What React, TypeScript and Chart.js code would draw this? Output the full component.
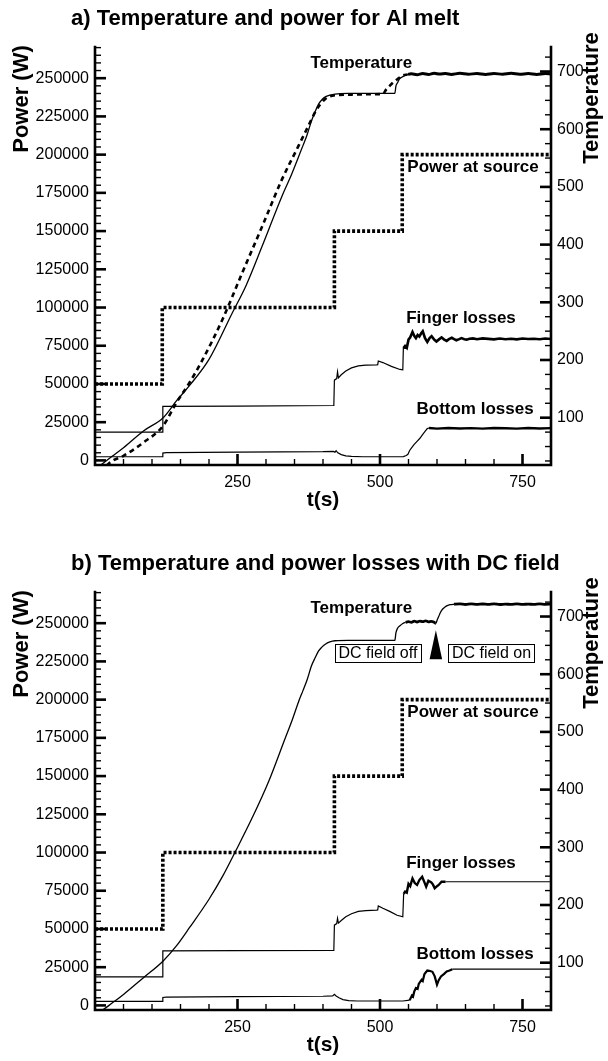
import React, { useEffect, useRef } from "react";
import { Chart, registerables } from "chart.js";

Chart.register(...registerables);

type Pt = [number, number];

const FONT = '"Liberation Sans", Arial, Helvetica, sans-serif';

// ---- axes / ticks ----
const X_TICKS = [250, 500, 750];
const POWER_TICKS = [0, 25000, 50000, 75000, 100000, 125000, 150000, 175000, 200000, 225000, 250000];
const TEMP_TICKS = [100, 200, 300, 400, 500, 600, 700];

// ---- chart a : Temperature and power for Al melt ----
const A_TITLE = "a) Temperature and power for Al melt";

const aPowerSource: Pt[] = [
  [0, 50000], [118, 50000], [118, 100000], [420, 100000], [420, 150000],
  [539, 150000], [539, 200000], [800, 200000],
];

const aTemperature: Pt[] = [
  [0, 12], [10, 18], [30, 33], [50, 48], [85, 77], [119.6, 100], [142.8, 129], [166, 156],
  [200, 201], [241, 282], [264.5, 328], [293.5, 398], [328, 484], [345, 522], [357, 552],
  [365, 572], [372, 590], [380, 615], [386, 630], [392, 643], [398, 651], [404, 656],
  [412, 659], [421, 661], [444, 662], [480, 662], [526, 662], [528, 675], [531, 681],
  [534, 687], [538, 690], [543, 693], [549, 695], [555, 696], [565, 694.5], [575, 696.5],
  [585, 695], [595, 697], [605, 695.5], [615, 696.5], [625, 695], [640, 696.8], [655, 695.2],
  [670, 696.6], [685, 695], [700, 696.5], [715, 695.3], [730, 696.8], [745, 695.2],
  [760, 696.4], [775, 695], [790, 696.5], [800, 695.8],
];

const aTemperatureModel: Pt[] = [
  [10, 5], [27, 23], [50, 34], [85, 57], [119.6, 86], [142.8, 126], [166, 161], [189, 201],
  [224, 271], [258.7, 352], [293.5, 432], [328, 513], [357, 571], [372, 601], [386, 629],
  [395, 643], [403.5, 652], [412, 657], [421, 659], [450, 660], [480, 660.5], [505, 661],
  [511, 669], [517, 675], [522, 680], [527, 684], [532, 688], [540, 693], [548, 695],
];

const aFinger: Pt[] = [
  [0, 18500], [119, 18500], [119, 35300], [250, 35500], [419, 35900], [420, 52500],
  [424, 53500], [425.5, 58000], [427, 54000], [432, 56000], [440, 58500], [450, 60500],
  [462, 61800], [475, 62300], [494, 62500], [496, 62600], [497, 65000], [505, 64000],
  [520, 61500], [535, 59500], [540, 59200], [541, 73500], [544, 74800], [547, 73600],
  [550, 79000], [553, 80500], [557, 84000], [560, 81500], [563, 80000], [566, 82000],
  [569, 81000], [572, 83000], [575, 84500], [579, 80000], [583, 77500], [587, 80000],
  [590.5, 81200], [595, 79000], [599, 77800], [603, 79000], [608, 80500], [612, 79200],
  [617, 78200], [621, 79300], [626, 80200], [630, 79300], [634, 78600], [639, 79300],
  [643, 80000], [648, 79300], [652, 79000], [657, 79600], [663, 79800], [670, 79300],
  [680, 79800], [690, 79500], [700, 79200], [710, 79700], [720, 79300], [730, 79600],
  [740, 79200], [750, 79700], [760, 79400], [770, 79600], [780, 79300], [790, 79700],
  [800, 79400],
];

const aBottom: Pt[] = [
  [0, 2400], [119, 2400], [119, 4800], [125, 5100], [250, 5400], [400, 5700], [418, 5900],
  [421, 5400], [423, 6400], [426, 5000], [432, 3800], [440, 3000], [450, 2600], [470, 2400],
  [530, 2400], [541, 2500], [546, 3200], [549, 4000], [552, 6500], [555, 8000], [560, 10500],
  [565, 12500], [570, 14500], [575, 17000], [579, 19000], [583, 20800], [586, 21200],
  [600, 20800], [620, 21200], [640, 20900], [660, 21100], [680, 20800], [700, 21200],
  [720, 21000], [740, 20800], [760, 21200], [780, 20900], [800, 21100],
];

// ---- chart b : Temperature and power losses with DC field ----
const B_TITLE = "b) Temperature and power losses with DC field";

const bPowerSource: Pt[] = [
  [0, 50000], [119, 50000], [119, 100000], [420, 100000], [420, 150000],
  [539, 150000], [539, 200000], [800, 200000],
];

const bTemperature: Pt[] = [
  [0, 12], [10, 16], [30, 30], [50, 45], [85, 74], [119.6, 103], [142.8, 129], [166, 161],
  [200, 210], [224, 250], [247, 294], [276, 351.5], [305, 415], [334, 490], [345, 518],
  [357, 552], [365, 572], [372, 590], [380, 615], [386, 628], [392, 640], [398, 647],
  [404, 652], [412, 656], [421, 658], [444, 658.5], [480, 658.5], [526, 658.5], [528, 672],
  [531, 680], [535, 684], [540, 688], [545, 690], [550, 691], [555, 690], [560, 692],
  [565, 690.5], [570, 692], [575, 691], [580, 692.5], [585, 690.8], [590, 691.5], [595, 690],
  [598, 688], [600, 693], [603, 700], [606, 707], [610, 713], [614, 716.5], [618, 719],
  [623, 720.5], [630, 721.3], [640, 722], [650, 720.8], [660, 721.8], [670, 720.9],
  [680, 721.7], [690, 721], [700, 722], [710, 720.8], [720, 721.6], [730, 721], [740, 721.9],
  [750, 720.9], [760, 721.6], [770, 721], [780, 721.8], [790, 721.1], [800, 721.5],
];

const bFinger: Pt[] = [
  [0, 18700], [119, 18700], [119, 35700], [250, 35900], [419, 36000], [420, 52500],
  [424, 53500], [425.5, 57000], [427, 53800], [432, 55500], [440, 58000], [450, 60000],
  [462, 61500], [475, 62000], [494, 62300], [496, 62400], [497, 65000], [505, 63500],
  [517, 61500], [530, 59000], [540, 58000], [541.5, 73000], [544, 74400], [547, 73800],
  [550, 79500], [553, 78000], [557, 83000], [561, 80000], [565, 78800], [569, 82000],
  [574, 84200], [578, 80500], [581, 77600], [585, 81500], [590, 80500], [593, 79000],
  [596, 76600], [600, 78000], [603, 78800], [608, 80900], [615, 80900], [800, 80900],
];

const bBottom: Pt[] = [
  [0, 2600], [119, 2600], [119, 5200], [125, 5400], [250, 5700], [400, 6000], [417, 6200],
  [420, 7300], [423, 6200], [428, 5000], [435, 3800], [445, 3100], [460, 2900], [500, 2900],
  [540, 2900], [552, 3400], [556, 6500], [558, 5800], [560, 9000], [563, 11400], [566, 10800],
  [568, 14000], [573, 16800], [575, 16000], [578, 20500], [583, 22800], [588, 22500],
  [592, 22000], [596, 19000], [600, 13600], [603, 16500], [607, 19000], [612, 20500],
  [617, 22200], [622, 22800], [627, 23700], [800, 23700],
];

// ---- text labels placed in data units (t, value) ----
const A_LABELS = [
  { text: "Temperature", t: 378, v: 714, axis: "t" },
  { text: "Power at source", t: 548, v: 191700, axis: "p" },
  { text: "Finger losses", t: 546, v: 92800, axis: "p" },
  { text: "Bottom losses", t: 564, v: 33300, axis: "p" },
];
const B_LABELS = A_LABELS;
const B_BOXES = [
  { text: "DC field off", t: 421, v: 637 },
  { text: "DC field on", t: 620, v: 637 },
];
const B_ARROW = { t: 598, tip: 676, base: 626, half: 11 };

const P_MIN = -3000, P_MAX = 270400;
const T_MIN = 18, T_MAX = 742.5;

function ds(points: Pt[], axis: string, width: number, opts: any = {}) {
  const thick: [number, number][] = opts.thick || [];
  const w2 = opts.thickWidth || 2.6;
  const out: any = {
    type: "line",
    data: points.map(([x, y]) => ({ x, y })),
    yAxisID: axis,
    borderColor: "#000",
    backgroundColor: "#000",
    borderWidth: width,
    borderDash: opts.dash || [],
    pointRadius: 0,
    tension: 0,
    fill: false,
    segment: {
      borderWidth: (c: any) => {
        const x = c.p0.parsed.x;
        return thick.some(([a, b]) => x >= a && x < b) ? w2 : width;
      },
    },
  };
  if (opts.smooth) out.cubicInterpolationMode = "monotone";
  return out;
}

function makeDecor(spec: any) {
  return {
    id: "decor",
    afterDraw(chart: any) {
      const ctx = chart.ctx;
      const ca = chart.chartArea;
      const xs = chart.scales.x, ps = chart.scales.p, ts = chart.scales.t;
      ctx.save();
      ctx.strokeStyle = "#000";
      ctx.fillStyle = "#000";
      const tick = (x1: number, y1: number, x2: number, y2: number, w: number) => {
        ctx.lineWidth = w;
        ctx.beginPath();
        ctx.moveTo(x1, y1);
        ctx.lineTo(x2, y2);
        ctx.stroke();
      };
      for (let v = 50; v < 800; v += 50) {
        const x = xs.getPixelForValue(v);
        const major = v % 250 === 0;
        tick(x, ca.bottom, x, ca.bottom - (major ? 11 : 6), major ? 2.6 : 1.4);
      }
      for (let v = 0; v <= P_MAX; v += 5000) {
        const y = ps.getPixelForValue(v);
        const major = v % 25000 === 0;
        tick(ca.left, y, ca.left + (major ? 11 : 6), y, major ? 2.6 : 1.4);
      }
      for (let v = 25; v <= T_MAX; v += 25) {
        const y = ts.getPixelForValue(v);
        if (y < ca.top - 1 || y > ca.bottom) continue;
        const major = v % 100 === 0;
        tick(ca.right, y, ca.right - (major ? 11 : 6), y, major ? 2.6 : 1.4);
      }
      ctx.lineWidth = 2.6;
      ctx.lineCap = "square";
      ctx.beginPath();
      ctx.moveTo(ca.left, ca.top);
      ctx.lineTo(ca.left, ca.bottom);
      ctx.lineTo(ca.right, ca.bottom);
      ctx.lineTo(ca.right, ca.top);
      ctx.stroke();
      ctx.lineCap = "butt";

      ctx.font = `bold 22px ${FONT}`;
      ctx.textAlign = "left";
      ctx.textBaseline = "middle";
      ctx.fillText(spec.title, 71, 19);

      ctx.font = `bold 22px ${FONT}`;
      const rot = (txt: string, x: number, y: number) => {
        ctx.save();
        ctx.translate(x, y);
        ctx.rotate(-Math.PI / 2);
        ctx.textAlign = "center";
        ctx.textBaseline = "middle";
        ctx.fillText(txt, 0, 0);
        ctx.restore();
      };
      rot("Power (W)", 22, 99);
      rot("Temperature", 592, 98);
      ctx.font = `bold 21px ${FONT}`;
      ctx.textAlign = "center";
      ctx.fillText("t(s)", (ca.left + ca.right) / 2, 500);

      ctx.font = `bold 17px ${FONT}`;
      ctx.textAlign = "left";
      for (const l of spec.labels) {
        const x = xs.getPixelForValue(l.t);
        const y = (l.axis === "t" ? ts : ps).getPixelForValue(l.v);
        ctx.fillText(l.text, x, y);
      }

      if (spec.boxes) {
        ctx.font = `16px ${FONT}`;
        for (const b of spec.boxes) {
          const x = xs.getPixelForValue(b.t);
          const y = ts.getPixelForValue(b.v);
          const w = ctx.measureText(b.text).width + 7;
          const h = 18;
          ctx.fillStyle = "#fff";
          ctx.fillRect(x, y - h / 2, w, h);
          ctx.lineWidth = 1;
          ctx.strokeStyle = "#000";
          ctx.strokeRect(Math.round(x) + 0.5, Math.round(y - h / 2) + 0.5, Math.round(w), h);
          ctx.fillStyle = "#000";
          ctx.textAlign = "left";
          ctx.fillText(b.text, x + 3.5, y + 1);
        }
      }
      if (spec.arrow) {
        const a = spec.arrow;
        const xt = xs.getPixelForValue(a.t);
        const xl = xs.getPixelForValue(a.t - a.half);
        const xr = xs.getPixelForValue(a.t + a.half);
        const yt = ts.getPixelForValue(a.tip);
        const yb = ts.getPixelForValue(a.base);
        ctx.beginPath();
        ctx.moveTo(xt, yt);
        ctx.lineTo(xr, yb);
        ctx.lineTo(xl, yb);
        ctx.closePath();
        ctx.fill();
      }
      ctx.restore();
    },
  };
}

function makeConfig(spec: any) {
  const tickFont = { family: FONT, size: 16 };
  return {
    type: "line",
    data: { datasets: spec.datasets },
    options: {
      animation: false,
      responsive: false,
      maintainAspectRatio: false,
      layout: { padding: { top: 47, left: 0, right: 0, bottom: 0 } },
      plugins: { legend: { display: false }, tooltip: { enabled: false }, title: { display: false } },
      scales: {
        x: {
          type: "linear",
          min: 0,
          max: 800,
          grid: { display: false, drawTicks: false },
          border: { display: false },
          afterBuildTicks: (s: any) => { s.ticks = X_TICKS.map((value) => ({ value })); },
          afterFit: (s: any) => { s.height = spec.xHeight; },
          ticks: {
            font: tickFont, color: "#000", padding: 8, maxRotation: 0, minRotation: 0,
            autoSkip: false, callback: (v: any) => String(v),
          },
        },
        p: {
          type: "linear",
          position: "left",
          min: P_MIN,
          max: P_MAX,
          grid: { display: false, drawTicks: false },
          border: { display: false },
          afterBuildTicks: (s: any) => { s.ticks = POWER_TICKS.map((value) => ({ value })); },
          afterFit: (s: any) => { s.width = 95; },
          ticks: { font: tickFont, color: "#000", padding: 6, autoSkip: false, callback: (v: any) => String(v) },
        },
        t: {
          type: "linear",
          position: "right",
          min: T_MIN,
          max: T_MAX,
          grid: { display: false, drawTicks: false },
          border: { display: false },
          afterBuildTicks: (s: any) => { s.ticks = TEMP_TICKS.map((value) => ({ value })); },
          afterFit: (s: any) => { s.width = 57; },
          ticks: { font: tickFont, color: "#000", padding: 6, autoSkip: false, callback: (v: any) => String(v) },
        },
      },
    },
    plugins: [makeDecor(spec)],
  };
}

const SPEC_A = {
  title: A_TITLE,
  xHeight: 65,
  labels: A_LABELS,
  datasets: [
    ds(aPowerSource, "p", 3.6, { dash: [3, 2] }),
    ds(aBottom, "p", 1.2, { thick: [[585, 800]], thickWidth: 2.4 }),
    ds(aFinger, "p", 1.2, { thick: [[541, 800]], thickWidth: 2.6 }),
    ds(aTemperatureModel, "t", 2.6, { dash: [5, 4], smooth: true }),
    ds(aTemperature, "t", 1.3, { thick: [[545, 800]], thickWidth: 3, smooth: true }),
  ],
};

const SPEC_B = {
  title: B_TITLE,
  xHeight: 51,
  labels: B_LABELS,
  boxes: B_BOXES,
  arrow: B_ARROW,
  datasets: [
    ds(bPowerSource, "p", 3.6, { dash: [3, 2] }),
    ds(bBottom, "p", 1.2, { thick: [[552, 627]], thickWidth: 2.2 }),
    ds(bFinger, "p", 1.2, { thick: [[541, 610]], thickWidth: 2.4 }),
    ds(bTemperature, "t", 1.3, { thick: [[545, 597], [625, 800]], thickWidth: 2.8, smooth: true }),
  ],
};

function ChartCanvas({ spec, top, height }: { spec: any; top: number; height: number }) {
  const ref = useRef<HTMLCanvasElement | null>(null);
  useEffect(() => {
    if (!ref.current) return;
    const chart = new Chart(ref.current, makeConfig(spec) as any);
    return () => chart.destroy();
  }, [spec]);
  return (
    <canvas
      ref={ref}
      width={608}
      height={height}
      style={{ position: "absolute", left: 0, top, width: 608, height, display: "block" }}
    />
  );
}

export default function App() {
  return (
    <div style={{ position: "absolute", left: 0, top: 0, width: 608, height: 1061, background: "#fff", overflow: "hidden" }}>
      <ChartCanvas spec={SPEC_A} top={0} height={530} />
      <ChartCanvas spec={SPEC_B} top={545} height={516} />
    </div>
  );
}
